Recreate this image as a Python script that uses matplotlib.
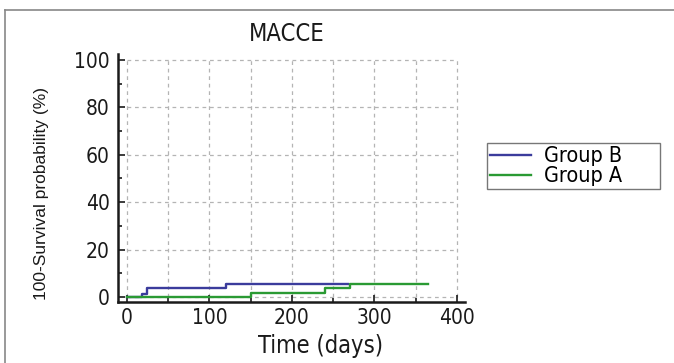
import matplotlib
matplotlib.use("Agg")
import matplotlib.pyplot as plt
from matplotlib.lines import Line2D
import numpy as np

# narrow sans for the axis text
plt.rcParams['font.family'] = ['DejaVu Sans']
plt.rcParams['font.stretch'] = 'condensed'

# step curves (event times in days, cumulative % with MACCE)
b_days = [0, 18, 24, 120, 268]
b_pct = [0, 1.2, 3.7, 5.5, 5.5]
a_days = [0, 150, 240, 270, 365]
a_pct = [0, 1.85, 3.7, 5.5, 5.5]

x_ticks = [0, 100, 200, 300, 400]
y_ticks = [0, 20, 40, 60, 80, 100]

BLUE = '#3b3c9c'
GREEN = '#2a9a33'
GRID = '#b4b4b4'

W, H = 674, 363
fig = plt.figure(figsize=(W / 100, H / 100), dpi=100)
ax = fig.add_axes([118 / W, 1 - 302 / H, (465 - 118) / W, (302 - 54) / H])

ax.set_xlim(-11, 410)
ax.set_ylim(-2.1, 102.5)

# dashed grid, only over the 0-400 / 0-100 region
vgrid = np.arange(0, 401, 50)
ax.vlines(vgrid, 0, 100, colors=GRID, linestyles=(0, (3, 3)), lw=0.9, zorder=1)
ax.hlines(y_ticks, 0, 400, colors=GRID, linestyles=(0, (3, 3)), lw=0.9, zorder=1)

ax.step(b_days, b_pct, where='post', color=BLUE, lw=1.7, label='Group B', zorder=3)
ax.step(a_days, a_pct, where='post', color=GREEN, lw=1.7, label='Group A', zorder=4)

for s in ['top', 'right']:
    ax.spines[s].set_visible(False)
for s in ['left', 'bottom']:
    ax.spines[s].set_linewidth(1.8)
    ax.spines[s].set_color('#1a1a1a')

ax.set_xticks(x_ticks)
ax.set_xticks(vgrid, minor=True)
ax.set_yticks(y_ticks)
ax.set_yticks(np.arange(0, 101, 10), minor=True)
ax.tick_params(which='both', direction='in', color='#1a1a1a', width=1.2)
ax.tick_params(which='major', length=5, labelsize=15, colors='#1a1a1a')
ax.tick_params(which='minor', length=3)
ax.tick_params(axis='y', pad=6)
ax.tick_params(axis='x', pad=4)

fig.text(287 / W, 1 - 34 / H, 'MACCE', ha='center', va='center', fontsize=17, color='#1a1a1a')
fig.text(321 / W, 1 - 346 / H, 'Time (days)', ha='center', va='center', fontsize=17, color='#1a1a1a')
fig.text(42 / W, 1 - 193 / H, '100-Survival probability (%)', ha='center', va='center',
         rotation=90, fontsize=12.5, family=['Liberation Sans', 'DejaVu Sans'], stretch='normal',
         color='#1a1a1a')

leg = ax.legend(loc='upper left', bbox_to_anchor=(487 / W, 1 - 190 / H, (660 - 487) / W, 47 / H),
                bbox_transform=fig.transFigure, mode='expand', borderaxespad=0,
                fontsize=15.5, labelspacing=0.0, handlelength=1.9, handletextpad=0.6,
                borderpad=0.15, fancybox=False, framealpha=1)
leg.get_frame().set_edgecolor('#777777')
leg.get_frame().set_linewidth(1.0)

# outer panel border (top and left edges)
fig.add_artist(Line2D([5 / W, 5 / W], [1 - 10 / H, 0], transform=fig.transFigure,
                      color='#888888', lw=1.2))
fig.add_artist(Line2D([5 / W, 1], [1 - 10 / H, 1 - 10 / H], transform=fig.transFigure,
                      color='#888888', lw=1.2))

fig.savefig('out.png', dpi=100)
